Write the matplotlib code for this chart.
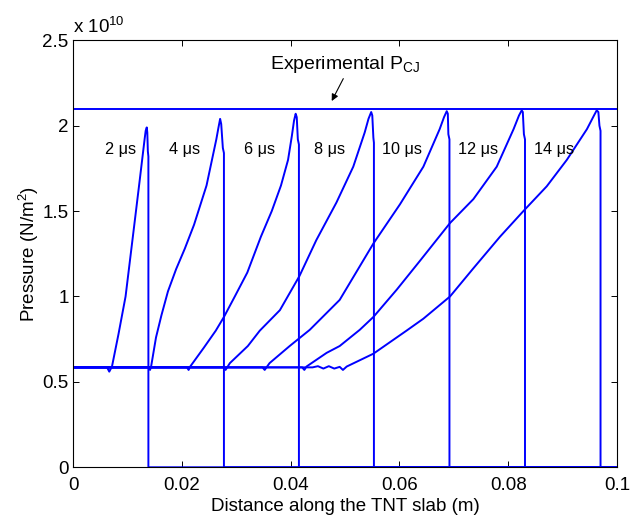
import numpy as np
import matplotlib.pyplot as plt

plt.rcParams['font.family'] = ['Liberation Sans', 'DejaVu Sans']
plt.rcParams['mathtext.fontset'] = 'custom'
plt.rcParams['mathtext.rm'] = 'Liberation Sans'

# pressure in units of 1e10 N/m^2, distance in m
p_base = 0.585
p_cj = 2.1
x_end = 0.1

times = ['2', '4', '6', '8', '10', '12', '14']
fronts = [0.0138, 0.0277, 0.0415, 0.0553, 0.0692, 0.0831, 0.0970]

# rising part of each profile (foot -> peak -> shoulder)
rise_x = [
    [0.0062, 0.0066, 0.0071, 0.0083, 0.0096, 0.0114, 0.0122, 0.0131, 0.0133, 0.0135, 0.0136, 0.0137],
    [0.0139, 0.0141, 0.0143, 0.0152, 0.0162, 0.0174, 0.0189, 0.0205, 0.0222, 0.0245, 0.0263, 0.0267,
     0.0270, 0.0272, 0.0275],
    [0.0209, 0.0212, 0.0215, 0.0240, 0.0262, 0.0277, 0.0297, 0.0320, 0.0345, 0.0365, 0.0382, 0.0395,
     0.0402, 0.0406, 0.0409, 0.0411, 0.0413],
    [0.0276, 0.0280, 0.0288, 0.0321, 0.0343, 0.0380, 0.0416, 0.0447, 0.0484, 0.0515, 0.0536, 0.0543,
     0.0548, 0.0550, 0.0552],
    [0.0348, 0.0352, 0.0361, 0.0398, 0.0435, 0.0490, 0.0552, 0.0601, 0.0644, 0.0674, 0.0682, 0.0687,
     0.0689, 0.0690],
    [0.0421, 0.0425, 0.0429, 0.0466, 0.0490, 0.0527, 0.0552, 0.0595, 0.0638, 0.0693, 0.0736, 0.0779,
     0.0810, 0.0820, 0.0825, 0.0827, 0.0829],
    [0.0440, 0.0450, 0.0460, 0.0470, 0.0480, 0.0490, 0.0496, 0.0503, 0.0552, 0.0613, 0.0644, 0.0693,
     0.0736, 0.0785, 0.0828, 0.0871, 0.0908, 0.0945, 0.0958, 0.0963, 0.0966, 0.0968],
]
rise_p = [
    [0.585, 0.56, 0.59, 0.78, 1.00, 1.47, 1.68, 1.92, 1.97, 1.99, 1.96, 1.85],
    [0.585, 0.57, 0.59, 0.76, 0.89, 1.03, 1.16, 1.28, 1.42, 1.65, 1.92, 1.99, 2.04, 2.01, 1.87],
    [0.585, 0.57, 0.59, 0.70, 0.80, 0.88, 1.00, 1.14, 1.35, 1.50, 1.65, 1.80, 1.94, 2.03, 2.07,
     2.05, 1.92],
    [0.585, 0.57, 0.61, 0.71, 0.80, 0.92, 1.12, 1.33, 1.55, 1.76, 1.96, 2.04, 2.08, 2.06, 1.93],
    [0.585, 0.57, 0.61, 0.71, 0.805, 0.98, 1.31, 1.54, 1.76, 1.98, 2.05, 2.085, 2.07, 1.95],
    [0.585, 0.57, 0.59, 0.67, 0.71, 0.805, 0.88, 1.04, 1.21, 1.43, 1.57, 1.76, 1.98, 2.06, 2.09,
     2.08, 1.95],
    [0.585, 0.592, 0.578, 0.592, 0.578, 0.588, 0.57, 0.59, 0.665, 0.80, 0.87, 1.00, 1.165,
     1.35, 1.50, 1.645, 1.80, 1.98, 2.06, 2.09, 2.08, 2.00],
]

label_x = [0.0058, 0.0176, 0.0314, 0.0442, 0.0567, 0.0708, 0.0848]
label_y = 1.835

fig = plt.figure(figsize=(6.41, 5.18), dpi=100)
ax = fig.add_axes([0.1145, 0.0979, 0.8478, 0.8243])

blue = '#0000ff'
for i in range(len(times)):
    xs = [0.0] + rise_x[i] + [fronts[i], fronts[i], x_end]
    ps = [p_base] + rise_p[i] + [rise_p[i][-1] - 0.03, 0.0, 0.0]
    ax.plot(xs, ps, color=blue, lw=1.4)
    ax.text(label_x[i], label_y, times[i] + ' \u03bcs', ha='left', va='baseline', fontsize=11.7)

ax.plot([0, x_end], [p_cj, p_cj], color=blue, lw=1.4)

ax.annotate('', xy=(0.0473, 2.13), xytext=(0.0499, 2.29),
            arrowprops=dict(arrowstyle='-|>', color='black', lw=0.8, mutation_scale=10))
ax.text(0.0362, 2.33, 'Experimental P$_{\\mathregular{CJ}}$', ha='left', va='baseline', fontsize=14)

ax.set_xlim(0, 0.1)
ax.set_ylim(0, 2.5)
ax.set_xticks([0, 0.02, 0.04, 0.06, 0.08, 0.1])
ax.set_xticklabels(['0', '0.02', '0.04', '0.06', '0.08', '0.1'])
ax.set_yticks([0, 0.5, 1, 1.5, 2, 2.5])
ax.set_yticklabels(['0', '0.5', '1', '1.5', '2', '2.5'])
ax.tick_params(axis='both', direction='in', top=True, right=True, length=4, width=0.7,
               labelsize=13.5)
ax.tick_params(axis='x', pad=7)
ax.tick_params(axis='y', pad=3.5)
for s in ax.spines.values():
    s.set_linewidth(0.8)

ax.text(0.0, 1.0164, 'x 10$^{\\mathregular{10}}$', transform=ax.transAxes, ha='left', va='baseline',
        fontsize=13.5)
ax.set_xlabel('Distance along the TNT slab (m)', fontsize=13.5, labelpad=3)
ax.set_ylabel('Pressure (N/m$^{\\mathregular{2}}$)', fontsize=13.5, labelpad=1)

fig.savefig('out.png', dpi=100)
